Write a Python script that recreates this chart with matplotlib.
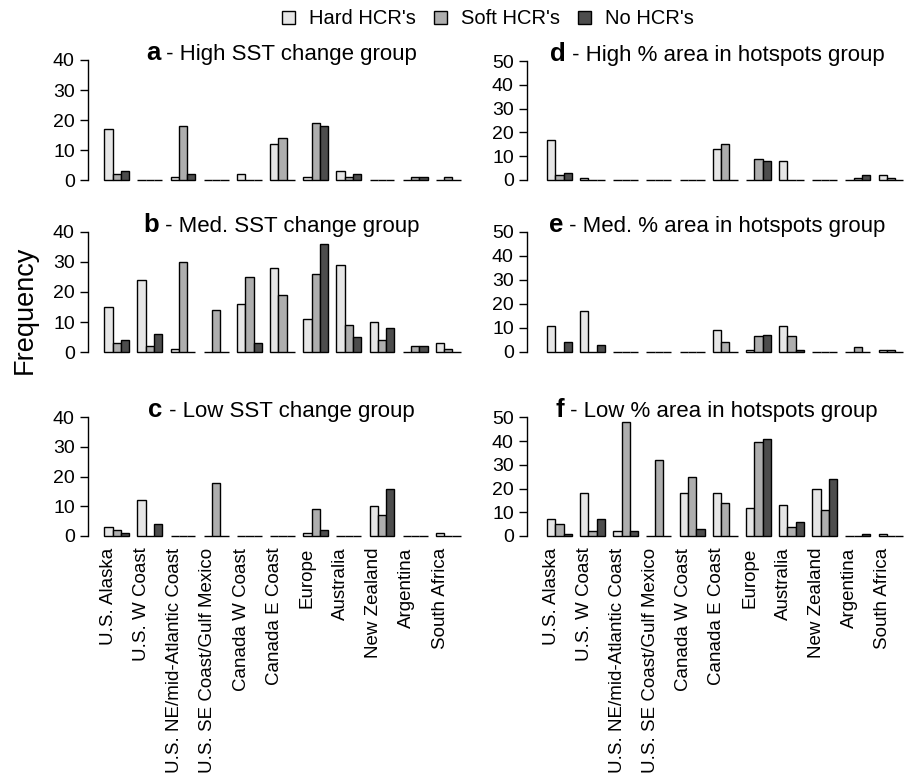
import numpy as np
import matplotlib
matplotlib.use('Agg')
import matplotlib.pyplot as plt
from matplotlib.patches import Patch
from matplotlib.transforms import blended_transform_factory

plt.rcParams['font.family'] = ['Liberation Sans', 'DejaVu Sans']

# Regions (x-axis categories)
regions = ['U.S. Alaska', 'U.S. W Coast', 'U.S. NE/mid-Atlantic Coast',
           'U.S. SE Coast/Gulf Mexico', 'Canada W Coast', 'Canada E Coast',
           'Europe', 'Australia', 'New Zealand', 'Argentina', 'South Africa']
series = ["Hard HCR's", "Soft HCR's", "No HCR's"]
colors = ['#E6E6E6', '#AEAEAE', '#4D4D4D']

# Frequencies per panel: columns = Hard, Soft, No
a_hard = [17, 0, 1, 0, 2, 12, 1, 3, 0, 0, 0]
a_soft = [2, 0, 18, 0, 0, 14, 19, 1, 0, 1, 1]
a_no   = [3, 0, 2, 0, 0, 0, 18, 2, 0, 1, 0]

b_hard = [15, 24, 1, 0, 16, 28, 11, 29, 10, 0, 3]
b_soft = [3, 2, 30, 14, 25, 19, 26, 9, 4, 2, 1]
b_no   = [4, 6, 0, 0, 3, 0, 36, 5, 8, 2, 0]

c_hard = [3, 12, 0, 0, 0, 0, 1, 0, 10, 0, 1]
c_soft = [2, 0, 0, 18, 0, 0, 9, 0, 7, 0, 0]
c_no   = [1, 4, 0, 0, 0, 0, 2, 0, 16, 0, 0]

d_hard = [17, 1, 0, 0, 0, 13, 0, 8, 0, 0, 2]
d_soft = [2, 0, 0, 0, 0, 15, 9, 0, 0, 1, 1]
d_no   = [3, 0, 0, 0, 0, 0, 8, 0, 0, 2, 0]

e_hard = [11, 17, 0, 0, 0, 9, 1, 11, 0, 0, 1]
e_soft = [0, 0, 0, 0, 0, 4, 6.5, 6.5, 0, 2, 1]
e_no   = [4, 3, 0, 0, 0, 0, 7, 1, 0, 0, 0]

f_hard = [7, 18, 2, 0, 18, 18, 12, 13, 20, 0, 1]
f_soft = [5, 2, 48, 32, 25, 14, 39.5, 4, 11, 0, 0]
f_no   = [1, 7, 2, 0, 3, 0, 41, 6, 24, 1, 0]

titles = {
    'a': 'High SST change group', 'b': 'Med. SST change group',
    'c': 'Low SST change group', 'd': 'High % area in hotspots group',
    'e': 'Med. % area in hotspots group', 'f': 'Low % area in hotspots group',
}

W, H = 907, 774
fig = plt.figure(figsize=(W / 100, H / 100), dpi=100)
renderer = fig.canvas.get_renderer()

UNIT = 8.29  # pixels per bar width

# (letter, data, ymax, axis-left px, first-bar px, zero px, top px)
panels = [
    ('a', (a_hard, a_soft, a_no), 40, 88, 104.3, 180.3, 60.0),
    ('b', (b_hard, b_soft, b_no), 40, 88, 104.3, 352.3, 231.7),
    ('c', (c_hard, c_soft, c_no), 40, 88, 104.3, 536.0, 417.3),
    ('d', (d_hard, d_soft, d_no), 50, 527, 547.0, 180.0, 61.0),
    ('e', (e_hard, e_soft, e_no), 50, 527, 547.0, 352.0, 232.0),
    ('f', (f_hard, f_soft, f_no), 50, 527, 547.0, 536.0, 417.3),
]

n = len(regions)
for letter, data, ymax, left_px, first_px, zero_px, top_px in panels:
    right_px = min(left_px + 387, W)
    span = zero_px - top_px
    bot_px = zero_px + 0.04 * span
    up_px = top_px - 0.04 * span
    ax = fig.add_axes([left_px / W, 1 - bot_px / H,
                       (right_px - left_px) / W, (bot_px - up_px) / H])
    x0 = 1 - (first_px - left_px) / UNIT
    x1 = 1 + (right_px - first_px) / UNIT
    ax.set_xlim(x0, x1)
    ax.set_ylim(-0.04 * ymax, 1.04 * ymax)

    for j, vals in enumerate(data):
        lefts = 1 + 4 * np.arange(n) + j
        ax.bar(lefts, vals, width=1, align='edge', color=colors[j],
               edgecolor='black', linewidth=1.0)

    for s in ['top', 'right', 'bottom']:
        ax.spines[s].set_visible(False)
    ax.spines['left'].set_bounds(0, ymax)
    ax.spines['left'].set_linewidth(1.0)
    ax.set_yticks(np.arange(0, ymax + 1, 10))
    ax.tick_params(axis='y', direction='out', length=5.5, width=1.0,
                   labelsize=14, pad=4)

    if letter in ('c', 'f'):
        ax.set_xticks(1.5 + 4 * np.arange(n))
        ax.set_xticklabels(regions, rotation=90, fontsize=13.5, va='top')
        ax.tick_params(axis='x', length=0, pad=5)
    else:
        ax.set_xticks([])

    # title: bold letter + regular text, centred over the panel
    tr = blended_transform_factory(ax.transAxes, ax.transData)
    t1 = ax.text(0, ymax, letter, fontsize=18.5, fontweight='bold',
                 transform=tr, ha='left', va='baseline')
    t2 = ax.text(0, ymax, ' - ' + titles[letter], fontsize=16,
                 transform=tr, ha='left', va='baseline')
    w1 = t1.get_window_extent(renderer).width
    w2 = t2.get_window_extent(renderer).width
    axw = ax.get_window_extent(renderer).width
    start = 0.5 - (w1 + w2) / 2 / axw
    t1.set_x(start)
    t2.set_x(start + w1 / axw)

fig.text(25 / W, 1 - 310 / H, 'Frequency', rotation=90, fontsize=19.5,
         ha='center', va='center')

handles = [Patch(facecolor=c, edgecolor='black', linewidth=1.0) for c in colors]
fig.legend(handles, series, loc='center', bbox_to_anchor=(488 / W, 1 - 19 / H),
           ncol=3, frameon=False, fontsize=14.5, handlelength=0.65,
           handleheight=0.65, handletextpad=0.7, columnspacing=0.9)

fig.savefig('out.png', dpi=100)
